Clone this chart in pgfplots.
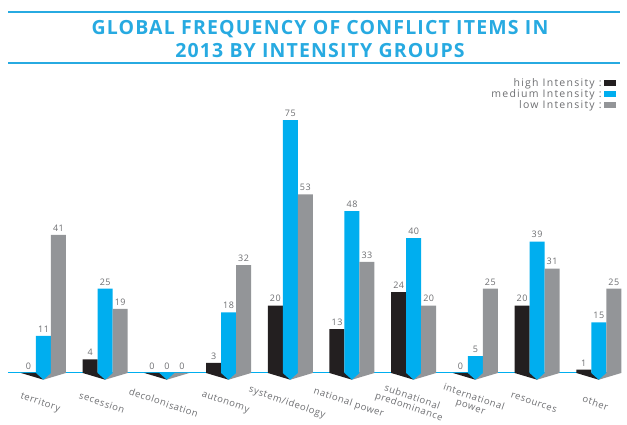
\documentclass[border=0pt]{standalone}
\usepackage{fontspec}
\setmainfont{Open Sans}
\newfontfamily\lblfont[LetterSpace=6]{Open Sans}
\newfontfamily\legfont[LetterSpace=12]{Open Sans}
\newfontfamily\titlefont[LetterSpace=6]{Open Sans}
\usepackage{pgfplots}
\pgfplotsset{compat=1.18}
\definecolor{cblack}{HTML}{231F20}
\definecolor{cblue}{HTML}{00AEEF}
\definecolor{cgray}{HTML}{939598}
\definecolor{ctitle}{HTML}{27AAE1}
\definecolor{ctext}{HTML}{6D6E71}
\pgfplotsset{sqlegend/.style={legend image code/.code={\fill (0pt,-3pt) rectangle (12pt,3pt);}}}
\begin{document}
\begin{tikzpicture}
\useasboundingbox (0,0) rectangle (627pt,425pt);
\draw[ctitle, line width=1.8pt] (8pt,412.7pt) -- (620pt,412.7pt);
\draw[ctitle, line width=1.8pt] (8pt,362pt) -- (620pt,362pt);
\node[align=center, text=ctitle, font=\titlefont\bfseries\fontsize{19.5}{23.5}\selectfont] at (320pt,386pt)
  {GLOBAL FREQUENCY OF CONFLICT ITEMS IN\\2013 BY INTENSITY GROUPS};
\begin{axis}[
  at={(8pt,31.8pt)}, anchor=south west,
  x=61.7pt, y=3.37pt,
  xmin=-0.575, xmax=9.34, ymin=-6, ymax=88,
  ybar=0pt, bar width=0.243,
  axis line style={draw=none},
  ytick=\empty,
  xtick={0,...,9},
  xticklabels={territory,secession,decolonisation,autonomy,system/ideology,national power,subnational\\predominance,international\\power,resources,other},
  major tick length=0pt,
  xticklabel style={rotate=-19, anchor=center, align=center, yshift=-10pt, font=\lblfont\fontsize{9.5}{10}\selectfont, text=ctext},
  /pgf/number format/assume math mode=true,
  clip=false,
  legend style={at={(1,1)}, anchor=north east, xshift=-3pt, yshift=1pt, draw=none, fill=none,
    font=\legfont\fontsize{10.5}{9}\selectfont, text=ctext, row sep=-2.5pt, inner sep=1pt},
  legend cell align=right,
  legend plot pos=right,
]
% decorative shadows below the baseline
\addplot[forget plot, sharp plot, fill=cblack, draw=none, unbounded coords=jump] coordinates {
 (-0.365,0) (0,-2) (0,0) (0,nan)
 (0.635,0) (1,-2) (1,0) (1,nan)
 (1.635,0) (2,-2) (2,0) (2,nan)
 (2.635,0) (3,-2) (3,0) (3,nan)
 (3.635,0) (4,-2) (4,0) (4,nan)
 (4.635,0) (5,-2) (5,0) (5,nan)
 (5.635,0) (6,-2) (6,0) (6,nan)
 (6.635,0) (7,-2) (7,0) (7,nan)
 (7.635,0) (8,-2) (8,0) (8,nan)
 (8.635,0) (9,-2) (9,0)};
\addplot[forget plot, sharp plot, fill=cgray, draw=none, unbounded coords=jump] coordinates {
 (0.365,0) (0,-2) (0,0) (0,nan)
 (1.365,0) (1,-2) (1,0) (1,nan)
 (2.365,0) (2,-2) (2,0) (2,nan)
 (3.365,0) (3,-2) (3,0) (3,nan)
 (4.365,0) (4,-2) (4,0) (4,nan)
 (5.365,0) (5,-2) (5,0) (5,nan)
 (6.365,0) (6,-2) (6,0) (6,nan)
 (7.365,0) (7,-2) (7,0) (7,nan)
 (8.365,0) (8,-2) (8,0) (8,nan)
 (9.365,0) (9,-2) (9,0)};
\addplot[forget plot, sharp plot, fill=cblue, draw=none, unbounded coords=jump] coordinates {
 (-0.122,0) (0,-2) (0.122,0) (0,nan)
 (0.878,0) (1,-2) (1.122,0) (1,nan)
 (1.878,0) (2,-2) (2.122,0) (2,nan)
 (2.878,0) (3,-2) (3.122,0) (3,nan)
 (3.878,0) (4,-2) (4.122,0) (4,nan)
 (4.878,0) (5,-2) (5.122,0) (5,nan)
 (5.878,0) (6,-2) (6.122,0) (6,nan)
 (6.878,0) (7,-2) (7.122,0) (7,nan)
 (7.878,0) (8,-2) (8.122,0) (8,nan)
 (8.878,0) (9,-2) (9.122,0)};
\addplot[forget plot, sharp plot, draw=cblue, line width=1pt, mark=none] coordinates {(-0.575,0) (9.34,0)};
% bars
\addplot[sqlegend, fill=cblack, draw=none, nodes near coords, nodes near coords style={font=\lblfont\fontsize{9}{9}\selectfont, text=ctext}]
 coordinates {(0,0) (1,4) (2,0) (3,3) (4,20) (5,13) (6,24) (7,0) (8,20) (9,1)};
\addplot[sqlegend, fill=cblue, draw=none, nodes near coords, nodes near coords style={font=\lblfont\fontsize{9}{9}\selectfont, text=ctext}]
 coordinates {(0,11) (1,25) (2,0) (3,18) (4,75) (5,48) (6,40) (7,5) (8,39) (9,15)};
\addplot[sqlegend, fill=cgray, draw=none, nodes near coords, nodes near coords style={font=\lblfont\fontsize{9}{9}\selectfont, text=ctext}]
 coordinates {(0,41) (1,19) (2,0) (3,32) (4,53) (5,33) (6,20) (7,25) (8,31) (9,25)};
\legend{high Intensity :, medium Intensity :, low Intensity :}
\end{axis}
\end{tikzpicture}
\end{document}
